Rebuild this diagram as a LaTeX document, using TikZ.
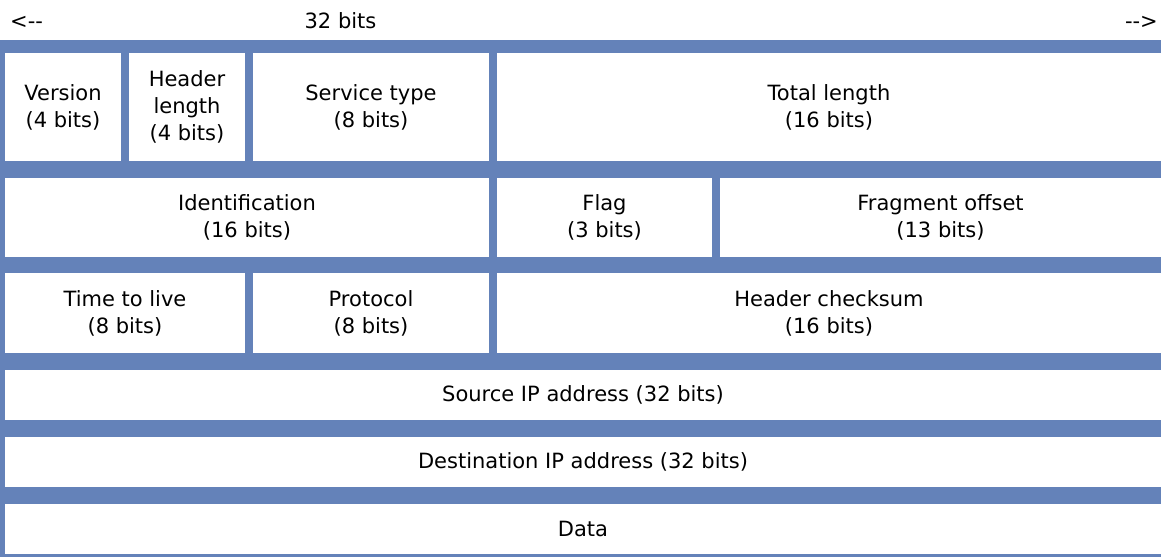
\documentclass[tikz,border=0pt]{standalone}
\usepackage{fontspec}
\setmainfont{DejaVu Sans}
\definecolor{bandblue}{RGB}{100,130,185}
\begin{document}
\begin{tikzpicture}[x=1pt,y=-1pt,
  cellbox/.style={fill=white,inner sep=0pt,outer sep=0pt,align=center,
    font=\fontsize{21}{27}\selectfont},
  toplabel/.style={inner sep=0pt,anchor=base,font=\fontsize{21}{27}\selectfont}]
\useasboundingbox (0,0) rectangle (1161,557);
\fill[white] (0,0) rectangle (1161,557);
\fill[bandblue] (0,40) rectangle (1161,557);
% top labels
\node[toplabel,anchor=base west] (larrow) at (10,28) {<-{}-};
\node[toplabel] (width) at (340.5,28) {32 bits};
\node[toplabel,anchor=base east] (rarrow) at (1158,28) {-{}->};
% row 1
\node[cellbox,minimum width=116,minimum height=108] (ver) at (63,107) {Version\\(4 bits)};
\node[cellbox,minimum width=116,minimum height=108] (hlen) at (187,107) {Header\\length\\(4 bits)};
\node[cellbox,minimum width=236,minimum height=108] (stype) at (371,107) {Service type\\(8 bits)};
\node[cellbox,minimum width=664,minimum height=108] (tlen) at (829,107) {Total length\\(16 bits)};
% row 2
\node[cellbox,minimum width=484,minimum height=79.5] (ident) at (247,217.25) {Identification\\(16 bits)};
\node[cellbox,minimum width=215,minimum height=79.5] (flag) at (604.5,217.25) {Flag\\(3 bits)};
\node[cellbox,minimum width=441,minimum height=79.5] (frag) at (940.5,217.25) {Fragment offset\\(13 bits)};
% row 3
\node[cellbox,minimum width=240,minimum height=80] (ttl) at (125,313) {Time to live\\(8 bits)};
\node[cellbox,minimum width=236,minimum height=80] (proto) at (371,313) {Protocol\\(8 bits)};
\node[cellbox,minimum width=664,minimum height=80] (hcs) at (829,313) {Header checksum\\(16 bits)};
% rows 4-6
\node[cellbox,minimum width=1156,minimum height=50.5] (src) at (583,394.75) {Source IP address (32 bits)};
\node[cellbox,minimum width=1156,minimum height=50] (dst) at (583,462) {Destination IP address (32 bits)};
\node[cellbox,minimum width=1156,minimum height=50] (data) at (583,529) {Data};
\end{tikzpicture}
\end{document}
